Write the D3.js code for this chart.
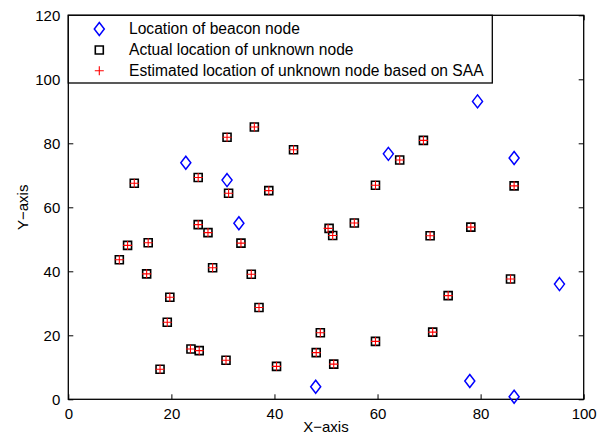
<!DOCTYPE html>
<html><head><meta charset="utf-8">
<script src="https://cdn.jsdelivr.net/npm/d3@7"></script>
<style>body{margin:0;background:#fff;} text{font-family:"Liberation Sans",Arial,sans-serif;fill:#000;}</style>
</head><body><svg id="c" width="616" height="438"></svg>
<script>
const beaconX = [22.8, 30.8, 33.1, 79.4, 62.1, 86.5, 95.3, 48.0, 77.9, 86.5];
const beaconY = [73.9, 68.5, 55.0, 93.1, 76.7, 75.4, 36.0, 3.9, 5.7, 0.8];
const actualX = [12.8,25.2,30.8,31.1,36.1,38.9,43.7,68.9,64.3,59.6,86.5,25.2,27.1,33.5,50.6,51.3,55.5,78.1,70.2,11.5,15.5,9.9,15.2,28.0,35.5,19.7,37.0,19.2,23.8,25.4,17.8,30.6,40.4,48.1,48.9,85.8,73.7,70.7,59.6,51.5];
const actualY = [67.5,69.3,81.9,64.4,85.1,65.2,78.0,80.9,74.8,66.9,66.7,54.6,52.1,48.8,53.4,51.2,55.1,53.8,51.1,48.1,48.9,43.6,39.2,41.1,39.1,31.9,28.7,24.1,15.7,15.2,9.4,12.2,10.3,14.6,20.8,37.6,32.4,21.0,18.1,11.0];
const estX = [12.8,25.2,30.8,31.1,36.1,38.9,43.7,68.9,64.3,59.6,86.5,25.2,27.1,33.5,50.4,51.3,55.5,78.1,70.2,11.5,15.5,9.9,15.2,28.0,35.5,19.7,37.0,19.2,23.7,25.4,17.8,30.6,40.4,48.1,48.9,85.8,73.7,70.7,59.6,51.5];
const estY = [67.5,69.3,81.9,64.4,85.1,65.2,78.0,80.9,74.8,66.9,66.7,54.6,52.1,48.8,53.4,51.2,55.1,53.8,51.1,48.1,48.9,43.6,39.2,41.1,39.1,31.9,28.7,24.1,15.7,15.2,9.4,12.2,10.3,14.6,20.8,37.6,32.4,21.0,18.1,11.0];
const xTicks = [0,20,40,60,80,100];
const yTicks = [0,20,40,60,80,100,120];
const legendLabels = ["Location of beacon node","Actual location of unknown node","Estimated location of unknown node based on SAA"];

const svg = d3.select("#c");
const L=68.3,R=583.7,T=15.3,B=399.3;
const x = d3.scaleLinear().domain([0,100]).range([L,R]);
const y = d3.scaleLinear().domain([0,120]).range([B,T]);

const fs = "15px";
const gB = svg.append("g").attr("transform",`translate(0,${B})`).call(d3.axisBottom(x).tickValues(xTicks).tickSizeInner(-5).tickSizeOuter(0).tickPadding(9));
const gL = svg.append("g").attr("transform",`translate(${L},0)`).call(d3.axisLeft(y).tickValues(yTicks).tickSizeInner(-5).tickSizeOuter(0).tickPadding(8));
const gT = svg.append("g").attr("transform",`translate(0,${T})`).call(d3.axisTop(x).tickValues(xTicks).tickSizeInner(-5).tickSizeOuter(0).tickFormat(""));
const gR = svg.append("g").attr("transform",`translate(${R},0)`).call(d3.axisRight(y).tickValues(yTicks).tickSizeInner(-5).tickSizeOuter(0).tickFormat(""));
[gB,gL,gT,gR].forEach(g=>{g.select(".domain").remove();g.selectAll("line").attr("stroke","#000").attr("stroke-width",1);g.selectAll("text").style("font-size",fs).style("font-family",'"Liberation Sans",Arial,sans-serif').attr("fill","#000");});
svg.append("rect").attr("x",L).attr("y",T).attr("width",R-L).attr("height",B-T).attr("fill","none").attr("stroke","#000").attr("stroke-width",1.3);

svg.append("text").attr("x",(L+R)/2).attr("y",432).attr("text-anchor","middle").style("font-size",fs).text("X\u2212axis");
svg.append("text").attr("transform",`translate(28,${(T+B)/2}) rotate(-90)`).attr("text-anchor","middle").style("font-size",fs).text("Y\u2212axis");

const diamond = "M0,-6.5L5,0L0,6.5L-5,0Z";
const square = "M-4,-4H4V4H-4Z";
const plus = "M-4.5,0H4.5M0,-4.5V4.5";

const actual = actualX.map((v,i)=>({x:v,y:actualY[i]}));
const est = estX.map((v,i)=>({x:v,y:estY[i]}));
const beacons = beaconX.map((v,i)=>({x:v,y:beaconY[i]}));

svg.append("g").selectAll("path").data(actual).join("path").attr("d",square)
  .attr("transform",d=>`translate(${x(d.x)},${y(d.y)})`).attr("fill","none").attr("stroke","#000").attr("stroke-width",1.6);
svg.append("g").selectAll("path").data(est).join("path").attr("d",plus)
  .attr("transform",d=>`translate(${x(d.x)},${y(d.y)})`).attr("fill","none").attr("stroke","#ff0000").attr("stroke-width",1.1);
svg.append("g").selectAll("path").data(beacons).join("path").attr("d",diamond)
  .attr("transform",d=>`translate(${x(d.x)},${y(d.y)})`).attr("fill","none").attr("stroke","#0000ff").attr("stroke-width",1.5);

const lg = svg.append("g");
lg.append("rect").attr("x",L).attr("y",T).attr("width",492.3-L).attr("height",83-T).attr("fill","#fff").attr("stroke","#000").attr("stroke-width",1.3);
const rowsY=[29,50,70.7];
const marks=[{d:diamond,s:"#0000ff",w:1.5},{d:square,s:"#000",w:1.6},{d:plus,s:"#ff0000",w:1.1}];
legendLabels.forEach((t,i)=>{
  lg.append("path").attr("d",marks[i].d).attr("transform",`translate(99.3,${rowsY[i]})`).attr("fill","none").attr("stroke",marks[i].s).attr("stroke-width",marks[i].w);
  lg.append("text").attr("x",129).attr("y",rowsY[i]).attr("dy","0.35em").style("font-size","15.6px").text(t);
});
</script></body></html>
